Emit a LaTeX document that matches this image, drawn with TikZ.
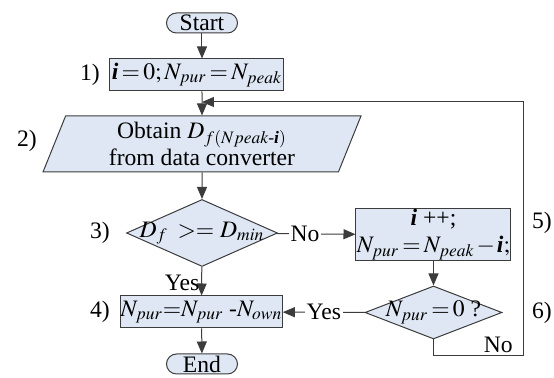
\documentclass[tikz,border=0pt]{standalone}
\usepackage{amsmath}
\usepackage{mathptmx}
\usepackage{fontspec}
\setmainfont{Liberation Serif}
\usetikzlibrary{arrows.meta, positioning, shapes.geometric, calc}
\definecolor{fcfill}{HTML}{DEE7F3}
\definecolor{fcline}{HTML}{3C3C3C}
\newcommand{\bii}{\textbf{\textit{i}}}
\thickmuskip=2.5mu
\medmuskip=1.5mu

\begin{document}
\begin{tikzpicture}[x=0.5pt, y=-0.5pt, font=\fontsize{11.8}{13.5}\selectfont,
  flow/.style={draw=fcline, fill=fcfill, line width=0.5pt, inner sep=0pt},
  term/.style={flow, rounded corners=5pt, minimum width=35.5pt, minimum height=10pt},
  procbox/.style={flow, rectangle},
  iobox/.style={flow, trapezium, trapezium left angle=62.6, trapezium right angle=117.4,
    trapezium stretches body, minimum width=159pt, minimum height=28pt},
  decide/.style={flow, diamond, inner sep=-4pt},
  conn/.style={draw=fcline, line width=0.5pt, -{Triangle[length=6pt, width=5pt]}},
  lbl/.style={inner sep=1pt}]
\useasboundingbox (0,0) rectangle (554,378);
% Main column
\node[term] (start) at (202,23) {Start};
\node[procbox, minimum width=87pt, minimum height=16pt] (init) at (197,75) {$\bii = 0; N_{pur} = N_{peak}$};
\node[iobox, align=center] (obtain) at (202,144) {Obtain $D_{f(Npeak\text{-}\text{\bii})}$\\from data converter};
\node[decide, aspect=2.25, minimum width=75.5pt, minimum height=33.5pt] (check) at (202,233) {$D_f$ \,$>=$ $D_{min}$};
\node[procbox, minimum width=79.5pt, minimum height=16pt] (update) at (201.5,312) {$N_{pur}{=}N_{pur}$ -$N_{own}$};
\node[term] (end) at (202,364) {End};
% Right column
\node[procbox, align=center, minimum width=77.5pt, minimum height=26pt] (incr) at (433.5,235) {\bii\ ++;\\$N_{pur} = N_{peak} - \bii;$};
\node[decide, aspect=2.6, minimum width=68.5pt, minimum height=26.5pt] (zero) at (433.5,312.5) {$N_{pur} = 0$ ?};
\coordinate (join) at (202,102);
% Step numbers
\foreach \n/\x/\y in {1/90/75, 2/27/141, 3/100/233, 4/100/312, 5/542/223, 6/542/313}
  \node (step\n) at (\x,\y) {\n)};
% Connectors
\draw[conn] (start) -- (start |- init.north);
\draw[conn] (start |- init.south) -- (obtain);
\draw[conn] (obtain) -- (check);
\draw[conn] (check) -- node[lbl, left, pos=0.55] {Yes} (update);
\draw[conn] (check) -- node[lbl, fill=white, pos=0.36] {No} (incr);
\draw[conn] (incr) -- (zero);
\draw[conn] (zero) -- node[lbl, fill=white] {Yes} (update);
\draw[conn] (update) -- (end);
\draw[conn] (zero.south) -- ++(0,16) -- node[lbl, above, pos=0.72] {No} ++(90,0) |- (join);
\end{tikzpicture}
\end{document}
